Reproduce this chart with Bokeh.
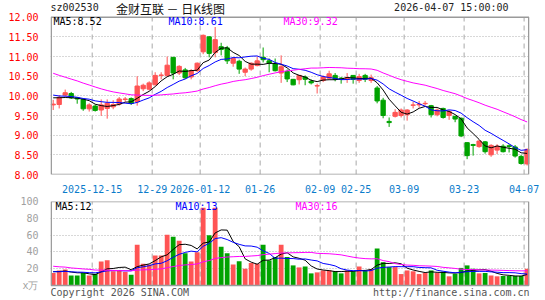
import pandas as pd
from bokeh.plotting import figure
from bokeh.layouts import column
from bokeh.models import FixedTicker, Label, Range1d, PrintfTickFormatter, ColumnDataSource
from bokeh.embed import file_html
from bokeh.resources import INLINE

# ---------------- data ----------------
holidays = ["2026-01-01", "2026-01-02", "2026-02-16", "2026-02-17", "2026-02-18",
            "2026-02-19", "2026-02-20", "2026-02-23", "2026-04-06"]
dates = [d.strftime("%Y-%m-%d") for d in pd.bdate_range("2025-12-04", "2026-04-07")
         if d.strftime("%Y-%m-%d") not in holidays]

tick_dates = ["2025-12-15", "2025-12-29", "2026-01-12", "2026-01-26", "2026-02-09",
              "2026-02-25", "2026-03-09", "2026-03-23", "2026-04-07"]
tick_labels = ["2025-12-15", "12-29", "2026-01-12", "01-26", "02-09",
               "02-25", "03-09", "03-23", "04-07"]

open_ = [9.77, 9.78, 10.02, 10.06, 9.95, 9.91, 9.67, 9.74, 9.64, 9.68,
         9.72, 9.79, 9.91, 9.93, 9.85, 10.18, 10.17, 10.28, 10.52, 10.52,
         10.98, 10.58, 10.66, 10.48, 10.64, 11.12, 11.50, 11.10, 11.25, 11.22,
         10.83, 10.88, 10.60, 10.68, 10.77, 10.98, 10.89, 10.81, 10.58, 10.62,
         10.42, 10.41, 10.48, 10.37, 10.25, 10.39, 10.45, 10.52, 10.45, 10.42,
         10.52, 10.39, 10.52, 10.39, 10.20, 9.89, 9.35, 9.48, 9.50, 9.52,
         9.76, 9.77, 9.80, 9.75, 9.52, 9.68, 9.50, 9.48, 9.43, 8.81,
         8.76, 8.71, 8.83, 8.50, 8.62, 8.72, 8.73, 8.70, 8.46, 8.27]
high = [9.90, 10.02, 10.16, 10.10, 9.97, 9.93, 9.81, 9.78, 9.91, 9.91,
        9.89, 9.97, 9.97, 9.96, 10.50, 10.31, 10.37, 10.60, 10.60, 11.00,
        10.98, 10.78, 10.71, 10.68, 10.85, 11.56, 11.52, 11.75, 11.35, 11.27,
        10.98, 10.92, 10.72, 10.85, 11.00, 11.23, 10.95, 10.95, 11.03, 10.67,
        10.43, 10.53, 10.52, 10.42, 10.31, 10.52, 10.64, 10.58, 10.48, 10.58,
        10.53, 10.56, 10.56, 10.54, 10.25, 9.95, 9.45, 9.66, 9.68, 9.66,
        9.85, 9.87, 9.87, 9.77, 9.68, 9.70, 9.64, 9.49, 9.45, 8.82,
        8.78, 8.87, 8.85, 8.77, 8.77, 8.77, 8.77, 8.75, 8.50, 8.66]
low = [9.64, 9.68, 9.98, 9.92, 9.80, 9.62, 9.60, 9.60, 9.49, 9.42,
       9.66, 9.75, 9.85, 9.77, 9.75, 10.12, 10.14, 10.27, 10.42, 10.48,
       10.42, 10.53, 10.43, 10.42, 10.60, 11.06, 10.98, 10.98, 11.03, 10.81,
       10.74, 10.56, 10.50, 10.64, 10.75, 10.85, 10.60, 10.62, 10.33, 10.35,
       10.27, 10.29, 10.27, 10.29, 10.06, 10.35, 10.42, 10.37, 10.31, 10.33,
       10.31, 10.33, 10.35, 10.33, 9.81, 9.43, 9.21, 9.45, 9.45, 9.37,
       9.68, 9.70, 9.75, 9.45, 9.48, 9.42, 9.39, 9.33, 8.95, 8.39,
       8.48, 8.68, 8.53, 8.45, 8.52, 8.56, 8.56, 8.43, 8.25, 8.23]
close = [9.79, 9.96, 10.08, 9.95, 9.92, 9.67, 9.77, 9.63, 9.77, 9.81,
         9.78, 9.92, 9.92, 9.81, 10.25, 10.27, 10.33, 10.52, 10.53, 10.78,
         10.58, 10.75, 10.46, 10.64, 10.83, 11.54, 11.08, 11.43, 11.18, 10.89,
         10.95, 10.68, 10.68, 10.83, 10.89, 10.92, 10.83, 10.64, 10.74, 10.43,
         10.28, 10.52, 10.42, 10.33, 10.26, 10.48, 10.56, 10.42, 10.42, 10.46,
         10.42, 10.49, 10.42, 10.46, 9.87, 9.50, 9.32, 9.58, 9.64, 9.64,
         9.77, 9.79, 9.81, 9.52, 9.64, 9.45, 9.60, 9.41, 8.98, 8.48,
         8.74, 8.85, 8.58, 8.74, 8.72, 8.58, 8.71, 8.47, 8.28, 8.64]
volume = [15, 18, 19, 12, 12, 15, 12, 14, 28.6, 30,
          17, 18, 16, 13, 48.6, 26, 25, 35.7, 35.7, 60.4,
          58, 53.3, 38.4, 28.6, 39.6, 92.5, 60, 92.5, 46.3, 38.4,
          25, 29, 20, 27, 26, 48.6, 30, 34, 48.6, 34,
          24, 21.6, 22.7, 14.5, 15.7, 18, 18, 17, 14.5, 18,
          17, 22.7, 18, 19.6, 44, 27.8, 22, 22, 13.7, 18,
          17, 13.7, 15, 18, 15, 16.5, 11, 14, 21, 24,
          20, 14.5, 15, 12, 11, 11.4, 11.4, 11.4, 11.4, 20]

# closes / volumes of the 29 sessions before the window (only used for the moving averages)
prior_close = [11.55, 11.48, 11.40, 11.30, 11.35, 11.22, 11.15, 11.20, 11.05,
               10.85, 10.70, 10.62, 10.55, 10.48, 10.40, 10.45, 10.35, 10.30, 10.38, 10.25,
               10.20, 10.12, 10.05, 10.10, 9.98, 9.95, 10.05, 9.98, 9.98]
prior_volume = [38, 30, 42, 28, 35, 25, 40, 30, 33, 26,
                24, 20, 18, 22, 17, 21, 19, 23, 16, 18,
                18, 15, 17, 16, 16.5, 17, 16, 18, 16.5]

price_ticks = [8.0, 8.5, 9.0, 9.5, 10.0, 10.5, 11.0, 11.5, 12.0]
volume_ticks = [0, 20, 40, 60, 80, 100]

price_legend = ["MA5:8.52", "MA10:8.61", "MA30:9.32"]
volume_legend = ["MA5:12", "MA10:13", "MA30:16"]
ma_periods = [5, 10, 30]
ma_colors = ["#000000", "#0000FF", "#FF00FF"]

header_code = "sz002530"
header_title = "金财互联 － 日K线图"
header_time = "2026-04-07 15:00:00"
footer_left = "Copyright 2026 SINA.COM"
footer_right = "http://finance.sina.com.cn"

# ---------------- derived ----------------
UP, DOWN = "#FF5454", "#00A300"
GRID = "#a8a8a8"
FRAME = "#9a9a9a"
MONO = "DejaVu Sans Mono"
n = len(close)
idx = list(range(n))
colors = [UP if c >= o else DOWN for o, c in zip(open_, close)]
tops = [max(o, c) for o, c in zip(open_, close)]
bots = [min(o, c) for o, c in zip(open_, close)]
src = ColumnDataSource(dict(x=idx, o=open_, h=high, l=low, c=close, top=tops, bot=bots,
                            v=volume, color=colors))


def ma(prior, series, k):
    s = pd.Series(list(prior) + list(series)).rolling(k).mean()
    return list(s.values[len(prior):])


tick_pos = [dates.index(d) - 0.5 for d in tick_dates]
X0, X1 = -0.45, 79.4
xr = Range1d(X0, X1)
EDGE = 0.12  # keeps the panel border inside the drawing area


def style(p, ylo, yhi, yticks):
    p.outline_line_color = None
    p.background_fill_color = "white"
    p.border_fill_color = "white"
    p.xgrid.visible = False
    p.ygrid.ticker = FixedTicker(ticks=yticks[1:-1])
    p.ygrid.grid_line_color = "#b0b0b0"
    p.ygrid.grid_line_dash = "1 2"
    for ax in p.yaxis:
        ax.ticker = FixedTicker(ticks=yticks)
        ax.axis_line_color = None
        ax.major_tick_line_color = None
        ax.minor_tick_line_color = None
        ax.major_label_text_font = MONO
        ax.major_label_text_font_size = "10px"
        ax.major_label_standoff = 6
    # dashed date separators, limited to the panel
    p.segment(x0=tick_pos, y0=[ylo] * len(tick_pos), x1=tick_pos, y1=[yhi] * len(tick_pos),
              line_color=GRID, line_dash="5 4", line_width=1)


def border(p, ylo, yhi):
    p.quad(left=[X0 + EDGE], right=[X1 - EDGE], bottom=[ylo], top=[yhi],
           fill_color=None, line_color=FRAME, line_width=1.5)


# ---------------- price panel ----------------
# the drawing area also holds the header line (17 px above the 12.00 line)
P_LO, P_HI = price_ticks[0], price_ticks[-1]
p1 = figure(width=545, height=195, x_range=xr, y_range=Range1d(P_LO, P_HI + 17 / 40),
            output_backend="svg", toolbar_location=None,
            min_border_left=50, min_border_right=16, min_border_top=0, min_border_bottom=18)
style(p1, P_LO, P_HI, price_ticks)
p1.yaxis.formatter = PrintfTickFormatter(format="%.2f")
p1.yaxis.major_label_text_color = "#FF0000"
p1.xaxis.ticker = FixedTicker(ticks=tick_pos)
p1.xaxis.major_label_overrides = {pos: lab for pos, lab in zip(tick_pos, tick_labels)}
p1.xaxis.axis_line_color = None
p1.xaxis.major_tick_line_color = None
p1.xaxis.minor_tick_line_color = None
p1.xaxis.major_label_text_color = "#0A7CCB"
p1.xaxis.major_label_text_font = MONO
p1.xaxis.major_label_text_font_size = "10px"
p1.xaxis.major_label_standoff = 4

p1.segment(x0="x", y0="l", x1="x", y1="h", color="color", line_width=1, source=src)
p1.vbar(x="x", top="top", bottom="bot", width=0.72, fill_color="color",
        line_color="color", line_width=1, source=src)
for k, col in zip(ma_periods, ma_colors):
    p1.line(idx, ma(prior_close, close, k), line_color=col, line_width=1)
border(p1, P_LO, P_HI)

for txt, col, xs in zip(price_legend, ma_colors, [3, 118, 233]):
    p1.add_layout(Label(x=xs, y=153, x_units="screen", y_units="screen", text=txt,
                        text_color=col, text_font=MONO, text_font_size="10px",
                        text_baseline="middle"))
p1.add_layout(Label(x=0, y=167, x_units="screen", y_units="screen", text=header_code,
                    text_color="#222222", text_font=MONO, text_font_size="10px",
                    text_baseline="middle"))
p1.add_layout(Label(x=120, y=166, x_units="screen", y_units="screen", text=header_title,
                    text_color="#111111", text_font="Noto Sans CJK SC", text_font_size="12px",
                    text_baseline="middle", text_align="center"))
p1.add_layout(Label(x=458, y=167, x_units="screen", y_units="screen", text=header_time,
                    text_color="#222222", text_font=MONO, text_font_size="10px",
                    text_baseline="middle", text_align="right"))

# ---------------- volume panel ----------------
# the drawing area also holds the footer line (below the 0 line)
V_LO, V_HI = volume_ticks[0], volume_ticks[-1]
v_extra = 15 * (V_HI - V_LO) / 84.5
p2 = figure(width=545, height=105, x_range=xr, y_range=Range1d(V_LO - v_extra, V_HI),
            output_backend="svg", toolbar_location=None,
            min_border_left=50, min_border_right=16, min_border_top=6, min_border_bottom=0)
style(p2, V_LO, V_HI, volume_ticks)
p2.xaxis.visible = False
p2.yaxis.major_label_overrides = {0: "x万"}
p2.yaxis.major_label_text_color = "#A0A0A0"

p2.vbar(x="x", top="v", bottom=0, width=0.8, fill_color="color", line_color=None, source=src)
for k, col in zip(ma_periods, ma_colors):
    p2.line(idx, ma(prior_volume, volume, k), line_color=col, line_width=1)
border(p2, V_LO, V_HI)

for txt, col, xs in zip(volume_legend, ma_colors, [5, 125, 245]):
    p2.add_layout(Label(x=xs, y=94, x_units="screen", y_units="screen", text=txt,
                        text_color=col, text_font=MONO, text_font_size="10px",
                        text_baseline="middle"))
p2.add_layout(Label(x=0, y=8, x_units="screen", y_units="screen", text=footer_left,
                    text_color="#555555", text_font=MONO, text_font_size="10px",
                    text_baseline="middle"))
p2.add_layout(Label(x=479, y=8, x_units="screen", y_units="screen", text=footer_right,
                    text_color="#555555", text_font=MONO, text_font_size="10px",
                    text_baseline="middle", text_align="right"))

layout = column(p1, p2, spacing=0)
open("out.html", "w").write(file_html(layout, INLINE))
